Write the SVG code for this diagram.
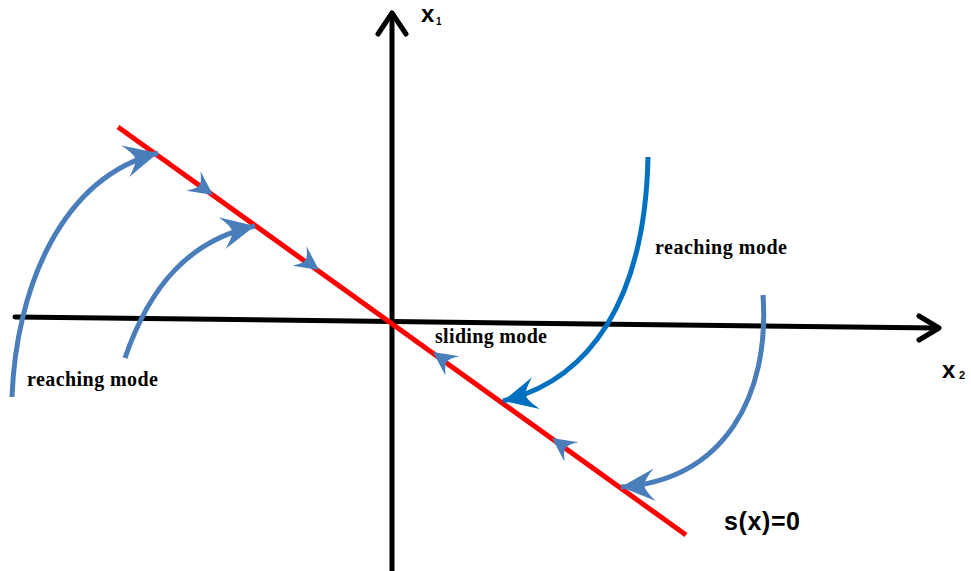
<svg xmlns="http://www.w3.org/2000/svg" width="971" height="571" viewBox="0 0 971 571">
<style>
.axis{stroke:#000;stroke-width:5;fill:none;stroke-linecap:round;stroke-linejoin:round}
.red{stroke:#FF0000;stroke-width:5;fill:none}
.traj{stroke:#4A7EBB;stroke-width:5;fill:none}
.traj2{stroke:#0070C0;stroke-width:5;fill:none}
.lbl{font-family:"Liberation Serif",serif;font-weight:bold;font-size:20px;fill:#000}
.ax{font-family:"Liberation Sans",sans-serif;font-weight:bold;fill:#000}
</style>
<defs>
<marker id="hb" markerUnits="userSpaceOnUse" markerWidth="40" markerHeight="40" refX="0" refY="0" viewBox="-30 -15 32 30" orient="auto">
<path d="M0,0 L-27,-13 Q-18,-3 -19,0 Q-18,3 -27,13 Z" fill="#4A7EBB"/>
</marker>
<marker id="hd" markerUnits="userSpaceOnUse" markerWidth="40" markerHeight="40" refX="0" refY="0" viewBox="-30 -15 32 30" orient="auto">
<path d="M0,0 L-27,-13 Q-18,-3 -19,0 Q-18,3 -27,13 Z" fill="#0070C0"/>
</marker>
<path id="sm" d="M0,0 L-24,-12 Q-16,-3 -17,0 Q-16,3 -24,12 Z" fill="#4A7EBB"/>
</defs>
<g id="axes">
<line class="axis" x1="392" y1="571" x2="392" y2="14"/>
<polyline class="axis" points="378,34 392,13 406,34"/>
<line class="axis" x1="15" y1="317" x2="938" y2="328"/>
<polyline class="axis" points="919,316 939,328 919,340"/>
</g>
<g id="switching-line">
<line class="red" x1="118" y1="127" x2="686" y2="535"/>
</g>
<g id="connectors">
<path class="traj" d="M12,397 C16,290 60,178 158,153" marker-end="url(#hb)"/>
<path class="traj" d="M125,358 C150,285 190,240 255,226" marker-end="url(#hb)"/>
<path class="traj2" d="M648,157 C645,300 590,380 503,401" marker-end="url(#hd)"/>
<path class="traj" d="M763,295 C770,395 725,480 621,487" marker-end="url(#hb)"/>
<use href="#sm" transform="translate(213,195) rotate(35.7)"/>
<use href="#sm" transform="translate(319,270) rotate(35.7)"/>
<use href="#sm" transform="translate(433,352) rotate(215.7)"/>
<use href="#sm" transform="translate(552,438) rotate(215.7)"/>
</g>
<g id="labels">
<text class="ax" x="421" y="22" font-size="24">x</text>
<text class="ax" x="436" y="25" font-size="10">1</text>
<text class="ax" x="942" y="378" font-size="24">x</text>
<text class="ax" x="959" y="379" font-size="11">2</text>
<text class="ax" x="724" y="530" font-size="25" textLength="76">s(x)=0</text>
<text class="lbl" x="655" y="254" textLength="132">reaching mode</text>
<text class="lbl" x="27" y="386" textLength="131">reaching mode</text>
<text class="lbl" x="435" y="343" textLength="112">sliding mode</text>
</g>
</svg>
